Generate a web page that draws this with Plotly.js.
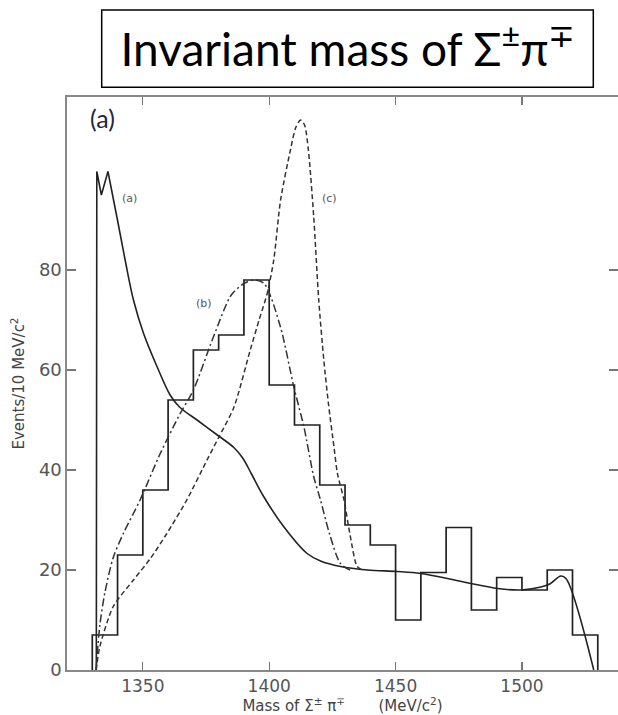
<!DOCTYPE html>
<html>
<head>
<meta charset="utf-8">
<script src="https://cdn.plot.ly/plotly-3.0.1.min.js"></script>
<style>html,body{margin:0;padding:0;background:#fff;}#chart{width:618px;height:715px;}</style>
</head>
<body>
<div id="chart"></div>
<script>
// Histogram: bin lower edges (MeV/c^2), bin width 10
const binLow = [1330,1340,1350,1360,1370,1380,1390,1400,1410,1420,1430,1440,1450,1460,1470,1480,1490,1500,1510,1520];
const binWidth = 10;
const counts = [7,23,36,54,64,67,78,57,49,37,29,25,10,19.5,28.5,12,18.5,16,20,7];

// Curve (a) solid (first 4 points = threshold spike)
const curveA_x = [1331.6,1331.8,1333.6,1336.2,1339.7,1343,1346.3,1350.3,1355.6,1360.8,1364.5,1372,1380,1386,1389.5,1393,1397.8,1405.7,1415,1420.3,1428.2,1438.8,1450.7,1460,1470.5,1479.8,1490.4,1499.6,1507.5,1511,1515.4,1517.4,1528.4];
const curveA_y = [0,99.7,95,99.7,90.7,82,74,67.3,60.7,55,52.6,49.8,46.8,44.5,42.4,39.2,34.7,28.7,23.3,21.8,20.7,20,19.7,19.3,18.3,17.3,16.3,16,16.6,17.2,18.8,18.3,0];

// Curve (b) dash-dot
const curveB_x = [1331.5,1333,1335,1338.3,1342.3,1348.9,1356.9,1364.8,1370,1378,1385,1390,1394,1398,1404.4,1409.7,1413.7,1417.6,1420.3,1424,1428.2,1432];
const curveB_y = [0,9,15.5,22.5,27.3,34,43.3,51.3,56,66.7,75,77.3,78,77.3,68.7,56.7,48.7,38.7,34,27,21.3,20];

// Curve (c) dashed
const curveC_x = [1331.5,1333,1338.3,1346.3,1353,1359.5,1367.4,1375.4,1380,1386,1392.5,1396,1399.2,1401.8,1404.5,1408.4,1410.5,1412.4,1414,1415.5,1417.6,1419.6,1421.6,1423.5,1425.6,1427,1429.6,1432,1434.8,1437];
const curveC_y = [0,4.7,12.7,18,22.3,27.3,34,42,46.5,52.5,64,70,75.3,82,94,104,108.5,110,109,104,90.7,74,62,53,44.7,39.3,34,27,20.7,20];

const yTicks = [0,20,40,60,80];
const xTicks = [1350,1400,1450,1500];

// Build step outline from bins
const hx = [binLow[0]], hy = [0];
for (let i = 0; i < binLow.length; i++) { hx.push(binLow[i]); hy.push(counts[i]); }
hx.push(binLow[binLow.length-1] + binWidth); hy.push(0);

const ink = '#222';
const traces = [
  {x: hx, y: hy, mode: 'lines', line: {shape: 'hv', color: ink, width: 1.7}, hoverinfo: 'skip'},
  {x: curveA_x.slice(0, 4), y: curveA_y.slice(0, 4), mode: 'lines', line: {color: ink, width: 1.6}},
  {x: curveA_x.slice(3), y: curveA_y.slice(3), mode: 'lines', line: {shape: 'spline', smoothing: 1, color: ink, width: 1.6}},
  {x: curveB_x, y: curveB_y, mode: 'lines', line: {shape: 'spline', smoothing: 0.8, color: '#333', width: 1.5, dash: '8px,3px,2px,3px'}},
  {x: curveC_x, y: curveC_y, mode: 'lines', line: {shape: 'spline', smoothing: 0.7, color: '#333', width: 1.5, dash: '5px,3px'}}
];

const L = 67, R = 0, T = 97, B = 45, W = 618, H = 715;
const pw = W - L - R, ph = H - T - B;
const px2x = p => (p - L) / pw;
const py2y = p => (H - B - p) / ph;

const layout = {
  width: W, height: H,
  margin: {l: L, r: R, t: T, b: B},
  paper_bgcolor: '#fff', plot_bgcolor: '#fff',
  showlegend: false,
  title: {
    text: 'Invariant mass of Σ<sup>±</sup>π<sup>∓</sup>',
    font: {family: 'Lato, sans-serif', size: 46, color: '#000'},
    x: 348 / W, xanchor: 'center', xref: 'container',
    y: 1 - 50 / H, yanchor: 'middle', yref: 'container'
  },
  xaxis: {
    range: [1320, 1538], tickvals: xTicks, ticktext: xTicks.map(String),
    ticks: 'inside', ticklen: 8, tickcolor: '#777', tickwidth: 1.3,
    showline: true, linecolor: '#888', linewidth: 1.6, mirror: 'ticks',
    showgrid: false, zeroline: false,
    tickfont: {family: 'DejaVu Sans, sans-serif', size: 17, color: '#555'},
    title: {text: 'Mass of Σ<sup>±</sup> π<sup>∓</sup>       (MeV/c<sup>2</sup>)', font: {family: 'DejaVu Sans, sans-serif', size: 15, color: '#444'}, standoff: 2}
  },
  yaxis: {
    range: [0, 114.6], tickvals: yTicks, ticktext: yTicks.map(String),
    ticks: 'inside', ticklen: 9, tickcolor: '#777', tickwidth: 1.3,
    showline: true, linecolor: '#888', linewidth: 1.6, mirror: 'ticks',
    showgrid: false, zeroline: false,
    tickfont: {family: 'DejaVu Sans, sans-serif', size: 18, color: '#555'},
    title: {text: 'Events/10 MeV/c<sup>2</sup>', font: {family: 'DejaVu Sans, sans-serif', size: 15, color: '#444'}, standoff: 10}
  },
  shapes: [
    {type: 'rect', xref: 'paper', yref: 'paper',
     x0: px2x(101.7), x1: px2x(593.3), y0: py2y(87.3), y1: py2y(10),
     line: {color: '#000', width: 1.5}, fillcolor: 'rgba(0,0,0,0)'}
  ],
  annotations: [
    {text: '(a)', xref: 'paper', yref: 'paper', x: px2x(102), y: py2y(118), xanchor: 'center', yanchor: 'middle', showarrow: false,
     font: {family: 'Lato, sans-serif', size: 25, color: '#1f2740'}},
    {text: '(a)', x: 1344.6, y: 94.4, xanchor: 'center', yanchor: 'middle', showarrow: false, font: {family: 'DejaVu Sans, sans-serif', size: 11, color: '#555'}},
    {text: '(b)', x: 1374.3, y: 73.4, xanchor: 'center', yanchor: 'middle', showarrow: false, font: {family: 'DejaVu Sans, sans-serif', size: 11, color: '#555'}},
    {text: '(c)', x: 1423.9, y: 94.4, xanchor: 'center', yanchor: 'middle', showarrow: false, font: {family: 'DejaVu Sans, sans-serif', size: 11, color: '#555'}}
  ]
};

Plotly.newPlot('chart', traces, layout, {displayModeBar: false, staticPlot: true});
</script>
</body>
</html>
